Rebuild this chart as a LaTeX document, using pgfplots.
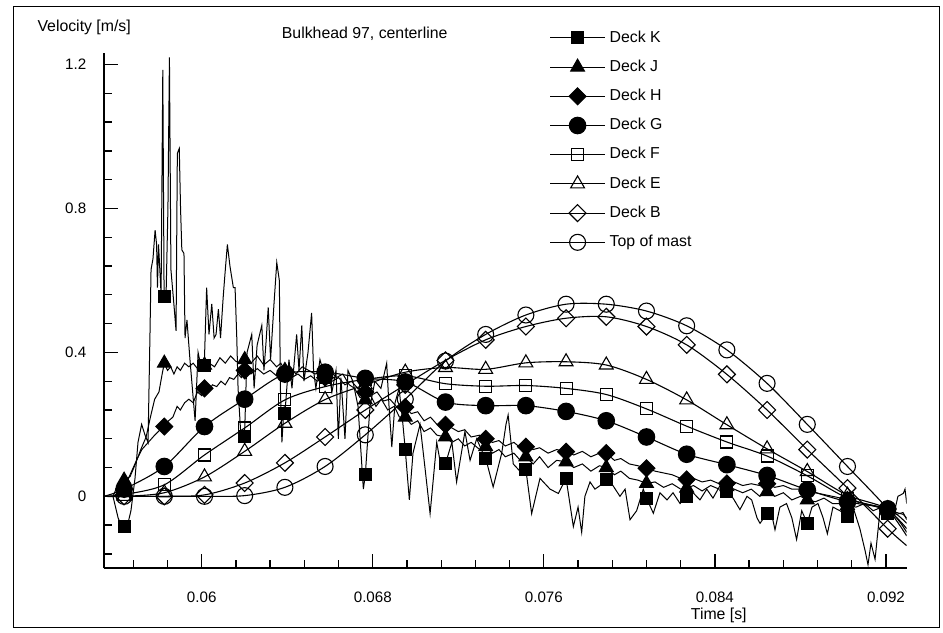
\documentclass[border=0pt]{standalone}
\usepackage{fontspec}
\setmainfont{Liberation Sans}
\usepackage{pgfplots}
\pgfplotsset{compat=1.18}
\begin{document}
\begin{tikzpicture}
\useasboundingbox (0,0) rectangle (943bp,633bp);
\draw[line width=1bp] (13bp,5bp) rectangle (939bp,626bp);
\begin{axis}[
  at={(104bp,64.7bp)}, anchor=south west,
  scale only axis, width=802.7bp, height=515.6bp,
  xmin=0.05543, xmax=0.09297, ymin=-0.2, ymax=1.233,
  axis lines*=left,
  axis line style={line width=1.8bp},
  tick align=inside,
  xtick={0.06,0.068,0.076,0.084,0.092},
  xticklabels={0.06,0.068,0.076,0.084,0.092},
  minor xtick={0.0568,0.0584,0.0616,0.0632,0.0648,0.0664,0.0696,0.0712,0.0728,0.0744,0.0776,0.0792,0.0808,0.0824,0.0856,0.0872,0.0888,0.0904},
  ytick={0,0.4,0.8,1.2},
  yticklabels={0,0.4,0.8,1.2},
  minor ytick={-0.16,-0.08,0.08,0.16,0.24,0.32,0.48,0.56,0.64,0.72,0.88,0.96,1.04,1.12},
  major tick length=14bp, minor tick length=8bp,
  tick style={black, line width=1.3bp},
  scaled ticks=false,
  /pgf/number format/assume math mode=true,
  tick label style={font=\fontsize{15.2}{18}\selectfont},
  xticklabel style={anchor=base, inner sep=0pt, yshift=-34bp},
  yticklabel style={anchor=east, inner sep=0pt, xshift=-17.5bp},
  every axis plot/.append style={black, line width=1.1bp},
  legend image code/.code={
    \draw[black, line width=1.1bp, solid] (0bp,0bp) -- (55bp,0bp);
    \draw[#1] plot coordinates {(27.5bp,0bp)};
  },
  legend cell align=left,
  legend style={at={(axis description cs:0.5548,1.047)}, anchor=north west,
    draw=none, fill=none, inner sep=0pt, row sep=10.7bp, column sep=2bp,
    font=\fontsize{15.9}{18}\selectfont,
    nodes={inner sep=2bp, text height=11.5bp, text depth=3bp}},
]
% ---------------- lines ----------------
% Deck K (noisy)
\addplot[forget plot, line width=1bp] coordinates {
(0.05543,0) (0.05585,0) (0.05609,-0.06) (0.05627,-0.085) (0.05651,-0.085) (0.05669,-0.04)
(0.05688,0.05) (0.05702,0.15) (0.05719,0.2) (0.05735,0.17) (0.05749,0.15) (0.05758,0.45)
(0.05763,0.63) (0.05772,0.66) (0.05782,0.74) (0.05789,0.70) (0.05793,0.58) (0.05798,0.70)
(0.05805,0.62) (0.05810,0.56) (0.05818,1.185) (0.05824,0.56) (0.05833,0.55) (0.05842,0.80)
(0.05849,1.22) (0.05856,0.63) (0.05871,0.526) (0.05880,0.46) (0.05886,0.953) (0.05895,0.967)
(0.05901,0.80) (0.05907,0.685) (0.05917,0.675) (0.05922,0.44) (0.05931,0.49) (0.05945,0.38)
(0.05969,0.21) (0.05983,0.40) (0.05997,0.36) (0.06012,0.365) (0.06023,0.58) (0.06034,0.45)
(0.06047,0.535) (0.06058,0.44) (0.06067,0.45) (0.06078,0.52) (0.06088,0.44) (0.06100,0.55)
(0.06109,0.62) (0.06120,0.70) (0.06132,0.64) (0.06148,0.58) (0.06156,0.58) (0.06164,0.44)
(0.06170,0.30) (0.06184,0.16) (0.06200,0.165) (0.06212,0.40) (0.06234,0.45) (0.06245,0.30)
(0.06259,0.42) (0.06281,0.475) (0.06291,0.35) (0.06301,0.43) (0.06311,0.525) (0.06322,0.38)
(0.06338,0.535) (0.06351,0.65) (0.06363,0.60) (0.06368,0.30) (0.06375,0.15) (0.06385,0.25)
(0.06389,0.23) (0.06408,0.38) (0.06422,0.30) (0.06444,0.45) (0.06455,0.35) (0.06468,0.475)
(0.06478,0.32) (0.06497,0.40) (0.06514,0.51) (0.06523,0.35) (0.06534,0.30) (0.06553,0.38)
(0.06577,0.33) (0.06590,0.36) (0.06609,0.29) (0.06628,0.35) (0.06639,0.16) (0.06651,0.33)
(0.06670,0.16) (0.06684,0.35) (0.06707,0.32) (0.06731,0.25) (0.06756,0.02) (0.06765,0.06)
(0.06787,0.25) (0.06810,0.32) (0.06838,0.30) (0.06865,0.37) (0.06876,0.25) (0.06889,0.137)
(0.06904,0.26) (0.06923,0.30) (0.06941,0.20) (0.06952,0.129) (0.06971,-0.01) (0.06988,0.12)
(0.07021,0.20) (0.07044,0.08) (0.07068,-0.048) (0.07099,0.15) (0.07114,0.10) (0.07140,0.091)
(0.07170,0.15) (0.07192,0.04) (0.07231,0.18) (0.07255,0.10) (0.07286,0.16) (0.07315,0.12)
(0.07328,0.106) (0.07363,0.026) (0.07403,0.12) (0.07423,0.20) (0.07433,0.226) (0.07457,0.09)
(0.07488,0.07) (0.07516,0.074) (0.07543,-0.048) (0.07582,0.05) (0.07629,0.02) (0.07668,0.008)
(0.07704,0.05) (0.07738,-0.084) (0.07760,-0.03) (0.07777,-0.1) (0.07792,0.0) (0.07816,0.04)
(0.07839,0.02) (0.07863,0.03) (0.07892,0.05) (0.07923,0.03) (0.07956,0.0) (0.07980,0.02)
(0.08003,-0.065) (0.08034,-0.04) (0.08065,0.02) (0.08080,-0.005) (0.08112,-0.047) (0.08143,0.01)
(0.08176,-0.01) (0.08204,0.01) (0.08237,-0.02) (0.08268,0.0) (0.08298,0.01) (0.08330,-0.01)
(0.08362,0.02) (0.08391,-0.005) (0.08424,0.03) (0.08456,0.013) (0.08485,-0.005) (0.08517,-0.037)
(0.08550,0.0) (0.08572,-0.01) (0.08597,-0.06) (0.08611,-0.075) (0.08644,-0.047) (0.08662,-0.04)
(0.08681,-0.093) (0.08704,-0.03) (0.08735,-0.02) (0.08760,-0.06) (0.08782,-0.12) (0.08806,-0.04)
(0.08832,-0.075) (0.08854,-0.03) (0.08882,-0.02) (0.08906,-0.06) (0.08926,-0.104) (0.08952,-0.03)
(0.08985,-0.04) (0.09020,-0.056) (0.09046,-0.03) (0.09078,-0.09) (0.09102,-0.15) (0.09116,-0.19)
(0.09130,-0.13) (0.09149,-0.175) (0.09172,-0.04) (0.09208,-0.047) (0.09233,-0.06) (0.09256,0.0)
(0.09281,0.008) (0.09289,0.02) (0.09297,-0.02)
};
% Deck J (noisy)
\addplot[forget plot, line width=1bp] coordinates {
(0.05543,0) (0.05585,0) (0.05610,0.035) (0.05637,0.045) (0.05665,0.055) (0.05690,0.09)
(0.05715,0.13) (0.05740,0.165) (0.05760,0.22) (0.05780,0.27) (0.05800,0.29) (0.05815,0.34)
(0.05825,0.37) (0.05840,0.35) (0.05855,0.36) (0.05870,0.34) (0.05885,0.36) (0.05900,0.35)
(0.05920,0.37) (0.05940,0.36) (0.05960,0.37) (0.05980,0.355) (0.06000,0.36) (0.06013,0.365)
(0.06035,0.37) (0.06060,0.36) (0.06085,0.385) (0.06110,0.37) (0.06135,0.39) (0.06160,0.375)
(0.06185,0.37) (0.06201,0.38) (0.06230,0.37) (0.06260,0.39) (0.06290,0.365) (0.06320,0.38)
(0.06350,0.36) (0.06370,0.37) (0.06389,0.35) (0.06415,0.36) (0.06440,0.34) (0.06470,0.36)
(0.06500,0.35) (0.06530,0.34) (0.06555,0.345) (0.06577,0.34) (0.06600,0.35) (0.06630,0.33)
(0.06660,0.34) (0.06690,0.31) (0.06715,0.30) (0.06740,0.275) (0.06765,0.268) (0.06790,0.28)
(0.06815,0.25) (0.06840,0.27) (0.06870,0.24) (0.06900,0.25) (0.06925,0.22) (0.06952,0.22)
(0.06980,0.20) (0.07010,0.21) (0.07040,0.18) (0.07070,0.19) (0.07100,0.17) (0.07140,0.165)
(0.07170,0.15) (0.07200,0.16) (0.07230,0.14) (0.07260,0.15) (0.07300,0.13) (0.07328,0.138)
(0.07360,0.12) (0.07390,0.13) (0.07420,0.11) (0.07460,0.12) (0.07490,0.10) (0.07516,0.11)
(0.07550,0.09) (0.07580,0.11) (0.07620,0.08) (0.07660,0.10) (0.07704,0.096) (0.07740,0.08)
(0.07780,0.09) (0.07820,0.07) (0.07860,0.085) (0.07892,0.08) (0.07930,0.06) (0.07960,0.07)
(0.08000,0.05) (0.08040,0.045) (0.08080,0.036) (0.08120,0.04) (0.08160,0.025) (0.08200,0.035)
(0.08240,0.02) (0.08268,0.023) (0.08300,0.03) (0.08340,0.015) (0.08380,0.03) (0.08420,0.02)
(0.08456,0.027) (0.08490,0.02) (0.08530,0.01) (0.08570,0.02) (0.08610,0.0) (0.08644,0.013)
(0.08680,0.0) (0.08720,0.01) (0.08760,-0.01) (0.08800,0.0) (0.08832,-0.01) (0.08870,-0.015)
(0.08910,-0.005) (0.08950,-0.02) (0.08990,-0.02) (0.09020,-0.025) (0.09060,-0.03) (0.09100,-0.02)
(0.09140,-0.04) (0.09180,-0.03) (0.09208,-0.04) (0.09250,-0.05) (0.09280,-0.045) (0.09297,-0.065)
};
% Deck H (noisy)
\addplot[forget plot, line width=1bp] coordinates {
(0.05543,0) (0.05585,0) (0.05610,0.01) (0.05637,0.02) (0.05665,0.06) (0.05695,0.10)
(0.05720,0.13) (0.05750,0.15) (0.05780,0.17) (0.05805,0.185) (0.05825,0.194) (0.05845,0.21)
(0.05865,0.22) (0.05885,0.25) (0.05900,0.24) (0.05920,0.26) (0.05940,0.27) (0.05960,0.26)
(0.05980,0.29) (0.06000,0.28) (0.06013,0.30) (0.06030,0.29) (0.06050,0.31) (0.06070,0.305)
(0.06090,0.32) (0.06110,0.31) (0.06130,0.33) (0.06150,0.325) (0.06170,0.34) (0.06185,0.33)
(0.06201,0.35) (0.06230,0.34) (0.06260,0.355) (0.06290,0.34) (0.06320,0.35) (0.06350,0.335)
(0.06370,0.345) (0.06389,0.34) (0.06420,0.33) (0.06450,0.34) (0.06480,0.325) (0.06510,0.335)
(0.06540,0.32) (0.06577,0.33) (0.06610,0.32) (0.06640,0.33) (0.06670,0.31) (0.06700,0.32)
(0.06730,0.30) (0.06765,0.29) (0.06790,0.28) (0.06820,0.29) (0.06850,0.265) (0.06880,0.27)
(0.06910,0.25) (0.06952,0.248) (0.06980,0.23) (0.07010,0.235) (0.07040,0.21) (0.07070,0.22)
(0.07100,0.20) (0.07140,0.199) (0.07170,0.19) (0.07200,0.18) (0.07230,0.185) (0.07260,0.165)
(0.07300,0.17) (0.07328,0.16) (0.07360,0.15) (0.07390,0.155) (0.07420,0.14) (0.07460,0.15)
(0.07490,0.135) (0.07516,0.138) (0.07550,0.13) (0.07580,0.135) (0.07620,0.12) (0.07660,0.13)
(0.07704,0.124) (0.07740,0.115) (0.07780,0.125) (0.07820,0.11) (0.07860,0.12) (0.07892,0.12)
(0.07930,0.10) (0.07960,0.105) (0.08000,0.09) (0.08040,0.085) (0.08080,0.078) (0.08120,0.07)
(0.08160,0.065) (0.08200,0.06) (0.08240,0.05) (0.08268,0.047) (0.08300,0.05) (0.08340,0.04)
(0.08380,0.045) (0.08420,0.035) (0.08456,0.036) (0.08490,0.04) (0.08530,0.03) (0.08570,0.035)
(0.08610,0.03) (0.08644,0.035) (0.08680,0.025) (0.08720,0.03) (0.08760,0.02) (0.08800,0.02)
(0.08832,0.015) (0.08870,0.01) (0.08910,0.005) (0.08950,0.0) (0.08990,-0.005) (0.09020,-0.01)
(0.09060,-0.015) (0.09100,-0.02) (0.09140,-0.025) (0.09180,-0.03) (0.09208,-0.035) (0.09250,-0.045)
(0.09280,-0.05) (0.09297,-0.06)
};
% Deck G
\addplot[forget plot, smooth] coordinates {
(0.05543,0) (0.05637,0.02) (0.05825,0.083) (0.06013,0.194) (0.06201,0.27) (0.06389,0.34) (0.06577,0.345)
(0.06765,0.328) (0.06952,0.318) (0.07140,0.262) (0.07328,0.252) (0.07516,0.252) (0.07704,0.236)
(0.07892,0.21) (0.08080,0.165) (0.08268,0.117) (0.08456,0.088) (0.08644,0.058) (0.08832,0.018)
(0.09020,-0.015) (0.09208,-0.035) (0.09297,-0.075)
};
% Deck F
\addplot[forget plot, smooth] coordinates {
(0.05543,0) (0.05637,0.005) (0.05825,0.032) (0.06013,0.115) (0.06201,0.19) (0.06389,0.268) (0.06577,0.305)
(0.06765,0.325) (0.06952,0.335) (0.07140,0.313) (0.07328,0.306) (0.07516,0.308) (0.07704,0.3)
(0.07892,0.283) (0.08080,0.243) (0.08268,0.195) (0.08456,0.151) (0.08644,0.112) (0.08832,0.057)
(0.09020,-0.005) (0.09208,-0.04) (0.09297,-0.09)
};
% Deck E
\addplot[forget plot, smooth] coordinates {
(0.05543,0) (0.05637,0) (0.05825,0.01) (0.06013,0.054) (0.06201,0.125) (0.06389,0.203) (0.06577,0.269)
(0.06765,0.31) (0.06952,0.345) (0.07140,0.358) (0.07328,0.353) (0.07516,0.371) (0.07704,0.374)
(0.07892,0.365) (0.08080,0.325) (0.08268,0.268) (0.08456,0.199) (0.08644,0.132) (0.08832,0.069)
(0.09020,0.003) (0.09208,-0.035) (0.09297,-0.1)
};
% Deck B
\addplot[forget plot, smooth] coordinates {
(0.05543,0) (0.05637,0) (0.05825,0) (0.06013,0.004) (0.06201,0.037) (0.06389,0.093) (0.06577,0.165)
(0.06765,0.24) (0.06952,0.31) (0.07140,0.378) (0.07328,0.435) (0.07516,0.472) (0.07704,0.495)
(0.07892,0.499) (0.08080,0.472) (0.08268,0.421) (0.08456,0.339) (0.08644,0.24) (0.08832,0.13)
(0.09020,0.023) (0.09208,-0.09) (0.09297,-0.137)
};
% Top of mast
\addplot[forget plot, smooth] coordinates {
(0.05543,0) (0.05637,0) (0.05825,0) (0.06013,0) (0.06201,0.002) (0.06389,0.025) (0.06577,0.083)
(0.06765,0.171) (0.06952,0.27) (0.07140,0.376) (0.07328,0.45) (0.07516,0.504) (0.07704,0.534)
(0.07892,0.534) (0.08080,0.515) (0.08268,0.474) (0.08456,0.407) (0.08644,0.314) (0.08832,0.2)
(0.09020,0.083) (0.09208,-0.035) (0.09297,-0.11)
};
% ---------------- markers ----------------
\addplot[only marks, mark=square*, mark size=6bp, mark options={solid, fill=black, line width=1bp}] coordinates {
(0.05637,-0.083) (0.05825,0.555) (0.06013,0.365) (0.06201,0.165) (0.06389,0.23) (0.06577,0.33)
(0.06765,0.06) (0.06952,0.129) (0.07140,0.091) (0.07328,0.106) (0.07516,0.074) (0.07704,0.05)
(0.07892,0.047) (0.08080,-0.005) (0.08268,0.0) (0.08456,0.013) (0.08644,-0.047) (0.08832,-0.075)
(0.09020,-0.056) (0.09208,-0.047)
};
\addlegendentry{Deck K}
\addplot[only marks, mark=triangle*, mark size=8bp, mark options={solid, fill=black, line width=1bp}] coordinates {
(0.05637,0.045) (0.05825,0.37) (0.06013,0.365) (0.06201,0.38) (0.06389,0.35) (0.06577,0.34)
(0.06765,0.268) (0.06952,0.22) (0.07140,0.165) (0.07328,0.138) (0.07516,0.11) (0.07704,0.096)
(0.07892,0.08) (0.08080,0.036) (0.08268,0.023) (0.08456,0.027) (0.08644,0.013) (0.08832,-0.01)
(0.09020,-0.025) (0.09208,-0.04)
};
\addlegendentry{Deck J}
\addplot[only marks, mark=square*, mark size=6bp, mark options={solid, rotate=45, fill=black, line width=1bp}] coordinates {
(0.05637,0.02) (0.05825,0.194) (0.06013,0.30) (0.06201,0.35) (0.06389,0.34) (0.06577,0.33)
(0.06765,0.29) (0.06952,0.248) (0.07140,0.199) (0.07328,0.16) (0.07516,0.138) (0.07704,0.124)
(0.07892,0.12) (0.08080,0.078) (0.08268,0.047) (0.08456,0.036) (0.08644,0.035) (0.08832,0.015)
(0.09020,-0.01) (0.09208,-0.035)
};
\addlegendentry{Deck H}
\addplot[only marks, mark=*, mark size=8.3bp, mark options={solid, fill=black, line width=1bp}] coordinates {
(0.05637,0.02) (0.05825,0.083) (0.06013,0.194) (0.06201,0.27) (0.06389,0.34) (0.06577,0.345)
(0.06765,0.328) (0.06952,0.318) (0.07140,0.262) (0.07328,0.252) (0.07516,0.252) (0.07704,0.236)
(0.07892,0.21) (0.08080,0.165) (0.08268,0.117) (0.08456,0.088) (0.08644,0.058) (0.08832,0.018)
(0.09020,-0.015) (0.09208,-0.035)
};
\addlegendentry{Deck G}
\addplot[only marks, mark=square, mark size=6bp, mark options={solid, line width=1.1bp}] coordinates {
(0.05637,0.005) (0.05825,0.032) (0.06013,0.115) (0.06201,0.19) (0.06389,0.268) (0.06577,0.305)
(0.06765,0.325) (0.06952,0.335) (0.07140,0.313) (0.07328,0.306) (0.07516,0.308) (0.07704,0.3)
(0.07892,0.283) (0.08080,0.243) (0.08268,0.195) (0.08456,0.151) (0.08644,0.112) (0.08832,0.057)
(0.09020,-0.005) (0.09208,-0.04)
};
\addlegendentry{Deck F}
\addplot[only marks, mark=triangle, mark size=8bp, mark options={solid, line width=1.1bp}] coordinates {
(0.05637,0) (0.05825,0.01) (0.06013,0.054) (0.06201,0.125) (0.06389,0.203) (0.06577,0.269)
(0.06765,0.31) (0.06952,0.345) (0.07140,0.358) (0.07328,0.353) (0.07516,0.371) (0.07704,0.374)
(0.07892,0.365) (0.08080,0.325) (0.08268,0.268) (0.08456,0.199) (0.08644,0.132) (0.08832,0.069)
(0.09020,0.003) (0.09208,-0.035)
};
\addlegendentry{Deck E}
\addplot[only marks, mark=square, mark size=6bp, mark options={solid, rotate=45, line width=1.1bp}] coordinates {
(0.05637,0) (0.05825,0) (0.06013,0.004) (0.06201,0.037) (0.06389,0.093) (0.06577,0.165)
(0.06765,0.24) (0.06952,0.31) (0.07140,0.378) (0.07328,0.435) (0.07516,0.472) (0.07704,0.495)
(0.07892,0.499) (0.08080,0.472) (0.08268,0.421) (0.08456,0.339) (0.08644,0.24) (0.08832,0.13)
(0.09020,0.023) (0.09208,-0.09)
};
\addlegendentry{Deck B}
\addplot[only marks, mark=o, mark size=8bp, mark options={solid, line width=1.1bp}] coordinates {
(0.05637,0) (0.05825,0) (0.06013,0) (0.06201,0.002) (0.06389,0.025) (0.06577,0.083)
(0.06765,0.171) (0.06952,0.27) (0.07140,0.376) (0.07328,0.45) (0.07516,0.504) (0.07704,0.534)
(0.07892,0.534) (0.08080,0.515) (0.08268,0.474) (0.08456,0.407) (0.08644,0.314) (0.08832,0.2)
(0.09020,0.083) (0.09208,-0.035)
};
\addlegendentry{Top of mast}
\end{axis}
\node[anchor=base west, inner sep=0pt, font=\fontsize{15.9}{18}\selectfont] at (37.3bp,601.3bp) {Velocity [m/s]};
\node[anchor=base west, inner sep=0pt, font=\fontsize{15.9}{18}\selectfont] at (281.7bp,594.7bp) {Bulkhead 97, centerline};
\node[anchor=base west, inner sep=0pt, font=\fontsize{15.9}{18}\selectfont] at (690.7bp,14bp) {Time [s]};
\end{tikzpicture}
\end{document}
